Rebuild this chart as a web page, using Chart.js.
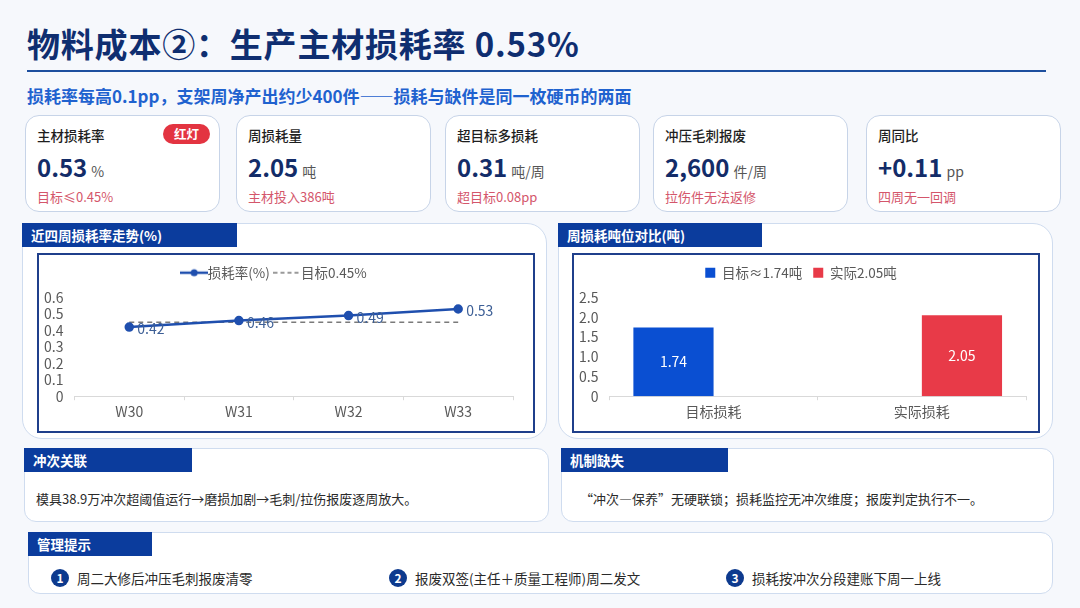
<!DOCTYPE html>
<html lang="zh">
<head>
<meta charset="utf-8">
<script src="https://cdn.jsdelivr.net/npm/chart.js@4/dist/chart.umd.min.js"></script>
<style>
  * { box-sizing: border-box; margin: 0; padding: 0; }
  body { width: 1080px; height: 608px; background: #f6f8fc; font-family: "Noto Sans CJK SC", "Noto Sans", sans-serif; position: relative; overflow: hidden; }
  .abs { position: absolute; }
  #title { left: 27px; top: 19px; font-size: 33px; font-weight: 700; color: #0f2e70; white-space: nowrap; letter-spacing: 0.8px; }
  #rule { left: 27px; top: 70px; width: 1019px; height: 2px; background: #1d4f9e; }
  #sub { left: 27px; top: 83px; font-size: 17px; font-weight: 700; color: #1f62cf; white-space: nowrap; }
  .kpi { top: 115px; height: 97px; background: #fff; border: 1px solid #c7d4e8; border-radius: 14px; }
  .kpi .t { position: absolute; left: 11px; top: 9px; font-size: 13.5px; font-weight: 500; color: #1e1e1e; }
  .kpi .v { position: absolute; left: 11px; top: 33px; font-size: 24px; font-weight: 700; color: #132c68; white-space: nowrap; }
  .kpi .v span { font-size: 14px; font-weight: 400; color: #555; margin-left: 4px; }
  .kpi .n { position: absolute; left: 11px; top: 71px; font-size: 13px; color: #d4566b; }
  .badge { position: absolute; right: 9px; top: 8px; width: 47px; height: 20px; border-radius: 10px; background: #e33441; color: #fff; font-size: 12.5px; font-weight: 700; text-align: center; line-height: 20px; }
  .panel { background: #fff; border: 1.5px solid #cfdcef; border-radius: 20px; }
  .hdr { background: #0b3c9d; color: #fff; font-size: 13.5px; font-weight: 700; line-height: 24px; padding-left: 9px; height: 24px; }
  .box { border: 2px solid #1f3f8b; background: #fff; }
  .txt { font-size: 13px; color: #2a2a2a; white-space: nowrap; }
  .tip { font-size: 13.5px; }
  .num { width: 18px; height: 18px; border-radius: 9px; background: #0d3a8e; color: #fff; font-size: 12px; font-weight: 700; text-align: center; line-height: 18px; }
</style>
</head>
<body>
<div id="title" class="abs">物料成本②：生产主材损耗率 0.53%</div>
<div id="rule" class="abs"></div>
<div id="sub" class="abs">损耗率每高0.1pp，支架周净产出约少400件——损耗与缺件是同一枚硬币的两面</div>

<div id="kpis"></div>

<div class="abs panel" style="left:22px;top:223px;width:525px;height:216px;"></div>
<div class="abs hdr" style="left:22px;top:223px;width:215px;">近四周损耗率走势(%)</div>
<div class="abs box" style="left:37px;top:253px;width:498px;height:180px;"><canvas id="rateChart"></canvas></div>

<div class="abs panel" style="left:558px;top:223px;width:495px;height:216px;"></div>
<div class="abs hdr" style="left:558px;top:223px;width:204px;">周损耗吨位对比(吨)</div>
<div class="abs box" style="left:572px;top:253px;width:468px;height:180px;"><canvas id="tonChart"></canvas></div>

<div class="abs panel" style="left:24px;top:448px;width:525px;height:74px;border-radius:12px;"></div>
<div class="abs hdr" style="left:24px;top:448px;width:168px;">冲次关联</div>
<div class="abs txt" style="left:36px;top:489px;">模具38.9万冲次超阈值运行→磨损加剧→毛刺/拉伤报废逐周放大。</div>

<div class="abs panel" style="left:561px;top:448px;width:493px;height:74px;border-radius:12px;"></div>
<div class="abs hdr" style="left:561px;top:448px;width:167px;">机制缺失</div>
<div class="abs txt" style="left:580px;top:489px;">“冲次—保养”无硬联锁；损耗监控无冲次维度；报废判定执行不一。</div>

<div class="abs panel" style="left:28px;top:532px;width:1025px;height:62px;border-radius:12px;"></div>
<div class="abs hdr" style="left:28px;top:532px;width:124px;">管理提示</div>
<div id="tips"></div>

<script>
// KPI cards
const kpiTitles = ['主材损耗率', '周损耗量', '超目标多损耗', '冲压毛刺报废', '周同比'];
const kpiValues = ['0.53', '2.05', '0.31', '2,600', '+0.11'];
const kpiUnits = ['%', '吨', '吨/周', '件/周', 'pp'];
const kpiNotes = ['目标≤0.45%', '主材投入386吨', '超目标0.08pp', '拉伤件无法返修', '四周无一回调'];
const kpiLeft = [25, 236, 445, 653, 866];

// line chart
const weeks = ['W30', 'W31', 'W32', 'W33'];
const lossRate = [0.42, 0.46, 0.49, 0.53];
const targetRate = [0.45, 0.45, 0.45, 0.45];
const rateAxis = { min: 0, max: 0.6, step: 0.1 };

// bar chart
const tonCats = ['目标损耗', '实际损耗'];
const targetTon = [1.74, null];
const actualTon = [null, 2.05];
const tonAxis = { min: 0, max: 2.5, step: 0.5 };

// tips
const tips = ['周二大修后冲压毛刺报废清零', '报废双签(主任＋质量工程师)周二发文', '损耗按冲次分段建账下周一上线'];
const tipLeft = [51, 389, 726];

const kpiBox = document.getElementById('kpis');
kpiTitles.forEach((t, i) => {
    const d = document.createElement('div');
    d.className = 'abs kpi';
    d.style.left = kpiLeft[i] + 'px';
    d.style.width = '195px';
    d.innerHTML = '<div class="t">' + t + '</div>' +
        '<div class="v">' + kpiValues[i] + '<span>' + kpiUnits[i] + '</span></div>' +
        '<div class="n">' + kpiNotes[i] + '</div>' +
        (i === 0 ? '<div class="badge">红灯</div>' : '');
    kpiBox.appendChild(d);
});

const tipBox = document.getElementById('tips');
tips.forEach((t, i) => {
    const n = document.createElement('div');
    n.className = 'abs num';
    n.style.left = tipLeft[i] + 'px';
    n.style.top = '569px';
    n.textContent = i + 1;
    tipBox.appendChild(n);
    const s = document.createElement('div');
    s.className = 'abs txt tip';
    s.style.left = (tipLeft[i] + 26) + 'px';
    s.style.top = '568px';
    s.textContent = t;
    tipBox.appendChild(s);
});

const FONT = '"Noto Sans CJK SC", "Noto Sans", sans-serif';
const GREY = '#595959';
const LINE_BLUE = '#1f4fae';

function legendIcon(kind) {
    const c = document.createElement('canvas');
    c.width = 28; c.height = 10;
    const g = c.getContext('2d');
    if (kind === 'dot') {
        g.strokeStyle = LINE_BLUE; g.lineWidth = 2.5;
        g.beginPath(); g.moveTo(0, 5); g.lineTo(28, 5); g.stroke();
        g.fillStyle = LINE_BLUE;
        g.beginPath(); g.arc(14, 5, 3.5, 0, Math.PI * 2); g.fill();
    } else {
        g.strokeStyle = '#7a7a7a'; g.lineWidth = 1.5;
        g.setLineDash([4, 3]);
        g.beginPath(); g.moveTo(0, 5); g.lineTo(28, 5); g.stroke();
    }
    return c;
}

// extra gap under the legend, like the office chart
const legendGap = {
    id: 'legendGap',
    afterInit(chart, args, opts) {
        const orig = chart.legend.fit;
        chart.legend.fit = function () {
            orig.call(this);
            this.height += opts.extra;
        };
    }
};

const valueLabels = {
    id: 'valueLabels',
    afterDatasetsDraw(chart, args, opts) {
        const ctx = chart.ctx;
        ctx.save();
        ctx.font = '14px ' + FONT;
        opts.sets.forEach(s => {
            const meta = chart.getDatasetMeta(s.index);
            const data = chart.data.datasets[s.index].data;
            meta.data.forEach((el, i) => {
                if (data[i] == null) return;
                ctx.fillStyle = s.color;
                ctx.textBaseline = 'middle';
                if (s.mode === 'right') {
                    ctx.textAlign = 'left';
                    ctx.fillText(data[i].toFixed(2), el.x + 8, el.y + 2);
                } else {
                    ctx.textAlign = 'center';
                    ctx.fillText(data[i].toFixed(2), el.x, (el.y + el.base) / 2);
                }
            });
        });
        ctx.restore();
    }
};

function axisCommon(a) {
    return {
        min: a.min, max: a.max,
        ticks: { stepSize: a.step, autoSkip: false, color: GREY, font: { family: FONT, size: 14 }, padding: 3 },
        grid: { display: false },
        border: { display: false }
    };
}

const xCommon = {
    offset: true,
    ticks: { color: GREY, font: { family: FONT, size: 14 }, padding: 3 },
    grid: { offset: true, drawOnChartArea: false, drawTicks: true, tickLength: 4, color: '#d9d9d9' },
    border: { color: '#d9d9d9' }
};

new Chart(document.getElementById('rateChart'), {
    type: 'line',
    data: {
        labels: weeks,
        datasets: [
            {
                label: '损耗率(%)', data: lossRate,
                borderColor: LINE_BLUE, backgroundColor: LINE_BLUE, borderWidth: 2.5,
                pointRadius: 3.5, pointBackgroundColor: LINE_BLUE
            },
            {
                label: '目标0.45%', data: targetRate,
                borderColor: '#7a7a7a', borderWidth: 1.5, borderDash: [5, 4],
                pointRadius: 0
            }
        ]
    },
    options: {
        responsive: true, maintainAspectRatio: false, animation: false,
        layout: { padding: { left: 2, right: 20, top: 0, bottom: 8 } },
        plugins: {
            legend: {
                labels: {
                    usePointStyle: true, color: GREY, font: { family: FONT, size: 13.5 }, padding: 11,
                    generateLabels(chart) {
                        return chart.data.datasets.map((ds, i) => ({
                            text: ds.label, pointStyle: i === 0 ? legendIcon('dot') : legendIcon('dash'),
                            fontColor: GREY, datasetIndex: i, lineWidth: 0, hidden: false
                        }));
                    }
                }
            },
            legendGap: { extra: 8 },
            tooltip: { enabled: false },
            valueLabels: { sets: [{ index: 0, mode: 'right', color: '#3d5f96' }] }
        },
        scales: { x: xCommon, y: axisCommon(rateAxis) }
    },
    plugins: [legendGap, valueLabels]
});

new Chart(document.getElementById('tonChart'), {
    type: 'bar',
    data: {
        labels: tonCats,
        datasets: [
            { label: '目标≈1.74吨', data: targetTon, backgroundColor: '#0a4fd2' },
            { label: '实际2.05吨', data: actualTon, backgroundColor: '#e83a48' }
        ]
    },
    options: {
        responsive: true, maintainAspectRatio: false, animation: false,
        layout: { padding: { left: 2, right: 12, top: 0, bottom: 8 } },
        datasets: { bar: { categoryPercentage: 0.77, barPercentage: 1 } },
        plugins: {
            legend: { labels: { boxWidth: 10, boxHeight: 10, color: GREY, font: { family: FONT, size: 13.5 }, padding: 11 } },
            legendGap: { extra: 8 },
            tooltip: { enabled: false },
            valueLabels: { sets: [{ index: 0, mode: 'mid', color: '#ffffff' }, { index: 1, mode: 'mid', color: '#ffffff' }] }
        },
        scales: { x: xCommon, y: axisCommon(tonAxis) }
    },
    plugins: [legendGap, valueLabels]
});
</script>
</body>
</html>
